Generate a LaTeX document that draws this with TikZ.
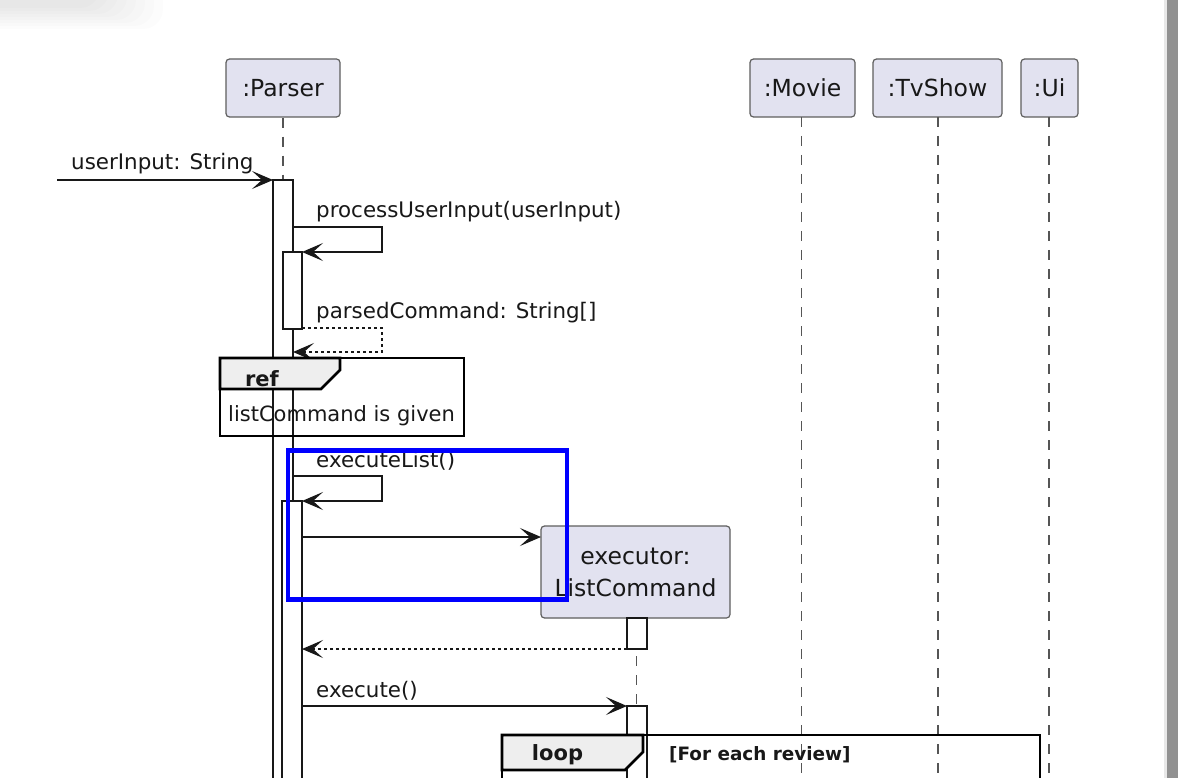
\documentclass[tikz,border=0pt]{standalone}
\usepackage{fontspec}
\setmainfont{DejaVu Sans}
\usetikzlibrary{arrows.meta}
\definecolor{partfill}{HTML}{E2E2F0}
\definecolor{partdraw}{HTML}{5E5E5E}
\definecolor{ink}{HTML}{181818}
\definecolor{tabfill}{HTML}{EEEEEE}
\definecolor{lifegray}{HTML}{555555}
\definecolor{sidebar}{HTML}{919191}
\tikzset{
  participant/.style={draw=partdraw, fill=partfill, line width=1.2pt, rounded corners=3.5pt,
    minimum height=58pt, inner sep=0pt, text=ink, font=\fontsize{23.5}{28}\selectfont},
  lifeline/.style={draw=lifegray, line width=1.1pt, dash pattern=on 10pt off 9pt},
  actbar/.style={draw=ink, fill=white, line width=1.4pt},
  msgarrow/.style={draw=ink, line width=1.5pt, -{Stealth[length=21pt, width=18pt, inset=10pt]}},
  retarrow/.style={msgarrow, dash pattern=on 3pt off 3pt},
  msglabel/.style={anchor=base west, inner sep=0pt, text=ink, font=\fontsize{21.4}{25}\selectfont},
  frameline/.style={draw=black, line width=2.6pt},
  tabshape/.style={draw=black, fill=tabfill, line width=2.6pt, line join=miter},
  framelabel/.style={anchor=base, inner sep=0pt, text=ink, font=\bfseries\fontsize{21}{25}\selectfont},
  guardlabel/.style={anchor=base west, inner sep=0pt, text=ink, font=\bfseries\fontsize{18.4}{22}\selectfont},
  highlight/.style={draw=blue, line width=4.3pt}
}
\begin{document}
\begin{tikzpicture}[x=1pt, y=-1pt]
\path[use as bounding box] (0,0) rectangle (1178,778);
\clip (0,0) rectangle (1178,778);
\fill[white] (0,0) rectangle (1178,778);
% faint window shadow top-left
\foreach \k in {0,...,7}{
  \fill[black, opacity=0.012, rounded corners=20pt] (-40,-40) rectangle ({100+9*\k},{8+3*\k});
}
% side bar
\fill[black!9] (1163.5,0) rectangle (1166.5,778);
\fill[sidebar] (1166.5,0) rectangle (1178,778);

% participants
\node[participant, minimum width=114pt] (parser) at (283,88) {:Parser};
\node[participant, minimum width=105pt] (movie) at (802.5,88) {:Movie};
\node[participant, minimum width=129pt] (tvshow) at (937.5,88) {:TvShow};
\node[participant, minimum width=57pt] (ui) at (1049.5,88) {:Ui};

% lifelines
\coordinate (parserEnd) at (283,800);
\coordinate (movieEnd) at (801.5,800);
\coordinate (tvEnd) at (938,800);
\coordinate (uiEnd) at (1049,800);
\draw[lifeline] (parser.south) -- (parserEnd);
\draw[lifeline] (801.5,117) -- (movieEnd);
\draw[lifeline] (938,117) -- (tvEnd);
\draw[lifeline] (1049,117) -- (uiEnd);

% executor participant (created)
\node[participant, minimum width=189pt, minimum height=92pt, align=center,
      font=\fontsize{23.5}{32}\selectfont] (exec) at (635.5,572) {executor:\\ListCommand};
\coordinate (execEnd) at (636.5,800);
\draw[lifeline] (636.5,618) -- (execEnd);

% activation bars
\path[actbar] (273,180) rectangle (293,800);
\path[actbar] (283,252) rectangle (302,329);
\path[actbar] (282,501) rectangle (302,800);
\path[actbar] (627,618) rectangle (647,649);
\path[actbar] (627,706) rectangle (647,800);

% named message points
\coordinate (inStart) at (57,180);
\coordinate (barA) at (273,180);
\coordinate (p1s) at (293,227);
\coordinate (p1e) at (302,252);
\coordinate (p2s) at (302,328);
\coordinate (p2e) at (293,352);
\coordinate (p3s) at (293,476);
\coordinate (p3e) at (302,501);
\coordinate (c1s) at (302,537);
\coordinate (c1e) at (541,537);
\coordinate (r1s) at (627,649);
\coordinate (r1e) at (302,649);
\coordinate (e1s) at (302,706);
\coordinate (e1e) at (627,706);

% messages
\draw[msgarrow] (inStart) -- (barA);
\node[msglabel] (lblIn) at (71,170) {userInput: String};

\draw[msgarrow] (p1s) -- (382,227) -- (382,252) -- (p1e);
\node[msglabel] (lbl1) at (316,218) {processUserInput(userInput)};

\draw[retarrow] (p2s) -- (382,328) -- (382,352) -- (p2e);
\node[msglabel] (lbl2) at (316,318) {parsedCommand: String[]};

% ref frame
\draw[frameline] (220,358) rectangle (464,436);
\draw[tabshape] (220,358) -- (340,358) -- (340,370) -- (321,389) -- (220,389) -- cycle;
\node[framelabel] (refl) at (262,386) {ref};
\node[msglabel, font=\fontsize{21}{25}\selectfont] (refText) at (228,421) {listCommand is given};

\draw[msgarrow] (p3s) -- (382,476) -- (382,501) -- (p3e);
\node[msglabel] (lbl3) at (316,467) {executeList()};

\draw[msgarrow] (c1s) -- (c1e);
\draw[retarrow] (r1s) -- (r1e);

\draw[msgarrow] (e1s) -- (e1e);
\node[msglabel] (lbl4) at (316,697) {execute()};

% loop frame
\draw[frameline] (502,735) rectangle (1040,810);
\draw[tabshape] (502,735) -- (643,735) -- (643,752) -- (625,770) -- (502,770) -- cycle;
\node[framelabel] (loopl) at (557.5,760) {loop};
\node[guardlabel] (guard) at (669,760) {[For each review]};

% blue highlight
\draw[highlight] (288.3,450.5) rectangle (567,599.5);
\end{tikzpicture}
\end{document}
